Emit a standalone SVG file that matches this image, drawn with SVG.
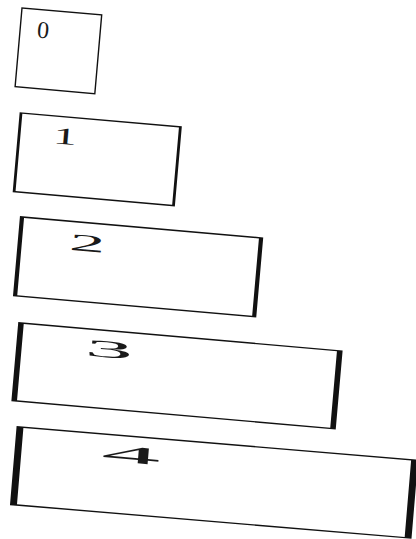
<svg xmlns="http://www.w3.org/2000/svg" width="416" height="539" viewBox="0 0 416 539">
<style>
.box{fill:#fff;stroke:#111;stroke-width:1.4}
.lbl{font-family:"Liberation Serif","Times New Roman",serif;font-size:24px;fill:#1a1a1a;text-anchor:middle}
</style>
<rect width="416" height="539" fill="#fff"/>
<g id="connectors"/>
<g id="node-0" transform="translate(22,8) rotate(5) scale(1,1)">
<rect class="box" x="0" y="0" width="80" height="79"/>
<text class="lbl" x="23" y="28">0</text>
</g>
<g id="node-1" transform="translate(21,113) rotate(5) scale(2,1)">
<rect class="box" x="0" y="0" width="80" height="79"/>
<text class="lbl" x="23" y="27.5">1</text>
</g>
<g id="node-2" transform="translate(22,217) rotate(5) scale(3,1)">
<rect class="box" x="0" y="0" width="80" height="79"/>
<text class="lbl" x="22.5" y="28.5">2</text>
</g>
<g id="node-3" transform="translate(21,323) rotate(5) scale(4,1)">
<rect class="box" x="0" y="0" width="80" height="78"/>
<text class="lbl" x="22.5" y="26.5">3</text>
</g>
<g id="node-4" transform="translate(20,427) rotate(4.8) scale(4.95,1)">
<rect class="box" x="0" y="0" width="80" height="78"/>
<text class="lbl" x="22.8" y="26.5">4</text>
</g>
</svg>
